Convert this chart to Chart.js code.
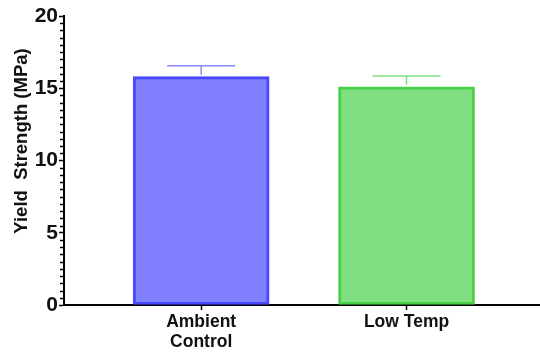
<!DOCTYPE html>
<html>
<head>
<meta charset="utf-8">
<script src="https://cdn.jsdelivr.net/npm/chart.js@4/dist/chart.umd.min.js"></script>
<style>
  html, body { margin: 0; padding: 0; background: #fff; }
  #wrap { width: 540px; height: 353px; }
</style>
</head>
<body>
<div id="wrap"><canvas id="barChart"></canvas></div>
<script>
// chart values
const categories = [["Ambient", "Control"], ["Low Temp"]];
const groupPos = [1, 2];
const means = [15.8, 15.1];
const errors = [0.75, 0.75];
const fillColors = ["#8080ff", "#80df80"];
const edgeColors = ["#4848ff", "#48d048"];
const errColors = ["#8a8aff", "#7fe07f"];
const yTicks = [0, 5, 10, 15, 20];
const yTitle = "Yield  Strength (MPa)";

// error bars above each bar
const errorBarPlugin = {
  id: "errorBars",
  afterDatasetsDraw(chart) {
    const { ctx, scales } = chart;
    ctx.save();
    ctx.lineWidth = 1.5;
    means.forEach((m, i) => {
      const x = scales.x.getPixelForValue(groupPos[i]);
      const y0 = scales.y.getPixelForValue(m);
      const y1 = scales.y.getPixelForValue(m + errors[i]);
      ctx.strokeStyle = errColors[i];
      ctx.beginPath();
      ctx.moveTo(x, y0 - 2);
      ctx.lineTo(x, y1);
      ctx.moveTo(x - 34, y1);
      ctx.lineTo(x + 34, y1);
      ctx.stroke();
    });
    ctx.restore();
  },
};

// minor ticks on the y axis + axis title
const minorTicks = {
  id: "minorTicks",
  afterDraw(chart) {
    const { ctx, scales, chartArea } = chart;
    ctx.save();
    ctx.strokeStyle = "#000";
    ctx.lineWidth = 1.5;
    for (let v = 0.5; v < 20; v += 0.5) {
      if (v % 5 === 0) continue;
      const y = Math.round(scales.y.getPixelForValue(v)) + 0.5;
      ctx.beginPath();
      ctx.moveTo(chartArea.left - 1, y);
      ctx.lineTo(chartArea.left - 4, y);
      ctx.stroke();
    }
    // y title, sits a bit above the middle like the original
    ctx.translate(22, 141);
    ctx.rotate(-Math.PI / 2);
    ctx.fillStyle = "#111";
    ctx.font = "bold 18.5px 'Liberation Sans', Arial";
    ctx.textAlign = "center";
    ctx.textBaseline = "middle";
    ctx.fillText(yTitle, 0, 0);
    ctx.restore();
  },
};

new Chart(document.getElementById("barChart").getContext("2d"), {
  type: "bar",
  data: {
    datasets: [
      {
        data: means.map((m, i) => ({ x: groupPos[i], y: m })),
        backgroundColor: fillColors,
        borderColor: edgeColors,
        borderWidth: 3,
        borderSkipped: false,
        barThickness: 136,
      },
    ],
  },
  options: {
    responsive: true,
    maintainAspectRatio: false,
    animation: false,
    layout: { padding: { top: 16, right: 0, left: 0, bottom: 0 } },
    plugins: { legend: { display: false }, tooltip: { enabled: false } },
    scales: {
      x: {
        type: "linear",
        offset: false,
        min: 0.332,
        max: 2.65,
        afterBuildTicks: (scale) => {
          scale.ticks = groupPos.map((v) => ({ value: v }));
        },
        afterFit: (scale) => { scale.height = 48; },
        ticks: {
          autoSkip: false,
          maxRotation: 0,
          color: "#111",
          padding: 3,
          font: { family: "Liberation Sans, Arial", size: 17.5, weight: "bold", lineHeight: 1.1 },
          callback: (v) => categories[groupPos.indexOf(v)],
        },
        grid: { offset: false, drawOnChartArea: false, tickLength: 5, tickColor: "#000", tickWidth: 1.5 },
        border: { color: "#000", width: 2 },
      },
      y: {
        min: 0,
        max: 20,
        afterBuildTicks: (scale) => {
          scale.ticks = yTicks.map((v) => ({ value: v }));
        },
        afterFit: (scale) => { scale.width = 64; },
        ticks: {
          color: "#111",
          padding: 1,
          font: { family: "Liberation Sans, Arial", size: 21, weight: "bold" },
        },
        grid: { drawOnChartArea: false, tickLength: 5, tickColor: "#000", tickWidth: 1.5 },
        border: { color: "#000", width: 2 },
      },
    },
  },
  plugins: [errorBarPlugin, minorTicks],
});
</script>
</body>
</html>
